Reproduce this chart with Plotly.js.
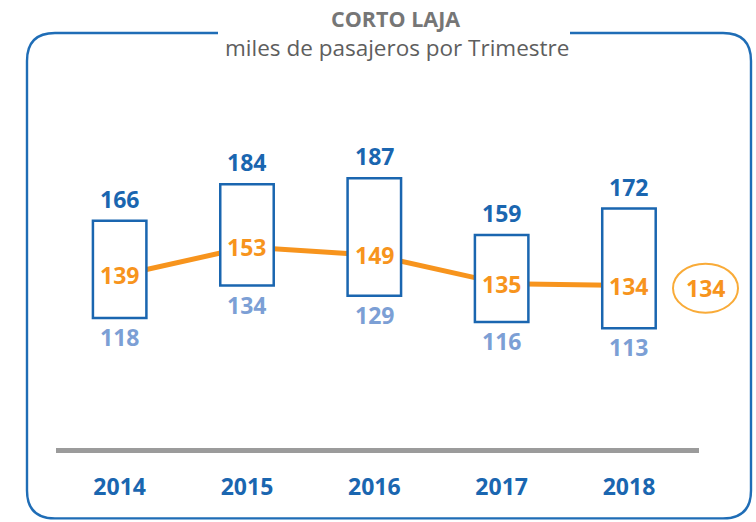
<!DOCTYPE html>
<html><head><meta charset="utf-8">
<script src="https://cdn.plot.ly/plotly-3.0.1.min.js"></script>
<style>html,body{margin:0;padding:0;background:#fff}#chart{width:756px;height:522px}</style>
</head><body><div id="chart"></div>
<script>
const years = ["2014","2015","2016","2017","2018"];
const maxVals = [166, 184, 187, 159, 172];
const avgVals = [139, 153, 149, 135, 134];
const minVals = [118, 134, 129, 116, 113];
const summaryVal = "134";
const titleText = "CORTO LAJA";
const subtitleText = "miles de pasajeros por Trimestre";

const W = 756, H = 522;
const L = 56, R = 57, T = 60, B = 73.5;
const pw = W - L - R, ph = H - T - B;
const fx = px => (px - L) / pw;
const fy = py => (H - B - py) / ph;

const darkBlue = "#1a66b0", lightBlue = "#7c9fd5", orange = "#f7941d", gray = "#9b9b9b";
const FONT = "'Open Sans', sans-serif";
const idx = years.map((_, i) => i);

const lineTrace = {
  x: idx, y: avgVals, type: "scatter", mode: "lines",
  line: {color: orange, width: 5}, hoverinfo: "skip", xaxis: "x", yaxis: "y"
};
const boxTrace = {
  x: idx, base: minVals, y: maxVals.map((m, i) => m - minVals[i]), type: "bar",
  width: 0.42, marker: {color: "#ffffff", line: {color: darkBlue, width: 2.5}},
  hoverinfo: "skip", xaxis: "x", yaxis: "y2"
};

const ann = [];
idx.forEach(i => {
  ann.push({x: i, y: maxVals[i], xref: "x", yref: "y", text: "<b>" + maxVals[i] + "</b>",
    showarrow: false, xanchor: "center", yanchor: "bottom", yshift: 4, font: {family: FONT, size: 23, color: darkBlue}});
  ann.push({x: i, y: minVals[i], xref: "x", yref: "y", text: "<b>" + minVals[i] + "</b>",
    showarrow: false, xanchor: "center", yanchor: "top", yshift: -1, font: {family: FONT, size: 23, color: lightBlue}});
  ann.push({x: i, y: avgVals[i], xref: "x", yref: "y", text: "<b>" + avgVals[i] + "</b>",
    showarrow: false, xanchor: "center", yanchor: "middle", font: {family: FONT, size: 23, color: orange}});
});
ann.push({x: fx(396), y: fy(18), xref: "paper", yref: "paper", text: "<b>" + titleText + "</b>",
  showarrow: false, xanchor: "center", yanchor: "middle", font: {family: FONT, size: 21.5, color: "#767676"}});
ann.push({x: fx(397), y: fy(47), xref: "paper", yref: "paper", text: subtitleText,
  showarrow: false, xanchor: "center", yanchor: "middle", font: {family: FONT, size: 22.5, color: "#5e5e5e"}});
ann.push({x: fx(705.5), y: fy(288.5), xref: "paper", yref: "paper", text: "<b>" + summaryVal + "</b>",
  showarrow: false, xanchor: "center", yanchor: "middle", font: {family: FONT, size: 23, color: orange}});

// decorative frame
const fL = fx(27), fR = fx(751), fT = fy(33), fB = fy(519);
const rx = 28 / pw, ry = 28 / ph, g1 = fx(218), g2 = fx(570);
const framePath = `M ${g2},${fT} L ${fR-rx},${fT} Q ${fR},${fT} ${fR},${fT-ry} L ${fR},${fB+ry} Q ${fR},${fB} ${fR-rx},${fB} L ${fL+rx},${fB} Q ${fL},${fB} ${fL},${fB+ry} L ${fL},${fT-ry} Q ${fL},${fT} ${fL+rx},${fT} L ${g1},${fT}`;

const shapes = [
  {type: "path", xref: "paper", yref: "paper", path: framePath, line: {color: "#1f6db6", width: 2.4}, layer: "below"},
  {type: "circle", xref: "paper", yref: "paper", x0: fx(673), x1: fx(738), y0: fy(313), y1: fy(264),
    line: {color: "#f9ab38", width: 2}, fillcolor: "rgba(0,0,0,0)"}
];

const yr = [53.9, 245.3];
const layout = {
  width: W, height: H, margin: {l: L, r: R, t: T, b: B},
  paper_bgcolor: "#fff", plot_bgcolor: "rgba(0,0,0,0)", showlegend: false,
  xaxis: {range: [-0.5, 4.55], tickvals: idx, ticktext: years.map(y => "<b>" + y + "</b>"),
    showline: true, linecolor: gray, linewidth: 5, showgrid: false, zeroline: false,
    ticks: "", ticklabelstandoff: 14, tickfont: {family: FONT, size: 23, color: darkBlue}, fixedrange: true},
  yaxis: {range: yr, visible: false, showgrid: false, zeroline: false, fixedrange: true},
  yaxis2: {range: yr, overlaying: "y", visible: false, showgrid: false, zeroline: false, fixedrange: true},
  annotations: ann, shapes: shapes
};
Plotly.newPlot("chart", [lineTrace, boxTrace], layout, {displayModeBar: false, staticPlot: true});
</script></body></html>
